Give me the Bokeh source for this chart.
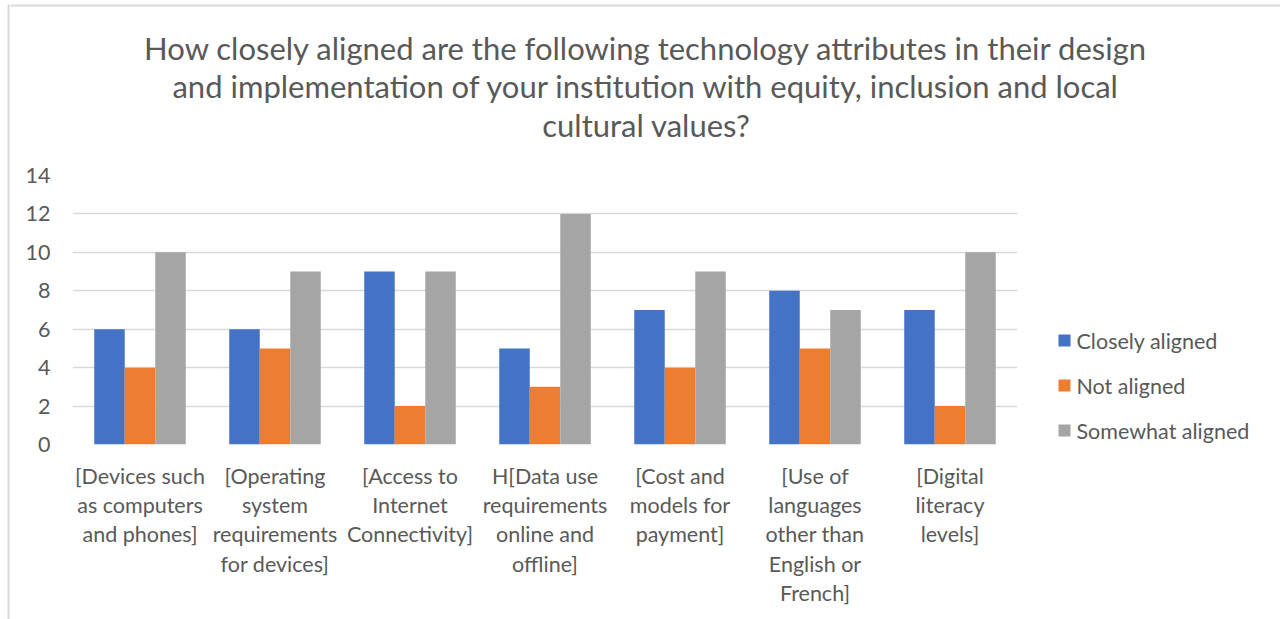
from bokeh.plotting import figure
from bokeh.layouts import column, row
from bokeh.models import FactorRange, SingleIntervalTicker, ColumnDataSource
from bokeh.core.properties import value
from bokeh.transform import dodge
from bokeh.embed import file_html
from bokeh.resources import INLINE

categories = [
    "[Devices such\nas computers\nand phones]",
    "[Operating\nsystem\nrequirements\nfor devices]",
    "[Access to\nInternet\nConnectivity]",
    "H[Data use\nrequirements\nonline and\noffline]",
    "[Cost and\nmodels for\npayment]",
    "[Use of\nlanguages\nother than\nEnglish or\nFrench]",
    "[Digital\nliteracy\nlevels]",
]
closely_aligned = [6, 6, 9, 5, 7, 8, 7]
not_aligned = [4, 5, 2, 3, 4, 5, 2]
somewhat_aligned = [10, 9, 9, 12, 9, 7, 10]
series_names = ["Closely aligned", "Not aligned", "Somewhat aligned"]
colors = ["#4472C4", "#ED7D31", "#A5A5A5"]
title_lines = [
    "How closely aligned are the following technology attributes in their design",
    "and implementation of your institution with equity, inclusion and local",
    "cultural values?",
]

FONT = "Lato"
TXT = "#595959"
BORDER = "#D9D9D9"
PW, PH = 1280, 619

# frame of the main chart, in page pixels
FX0, FX1, FY0, FY1 = 72, 1017, 175, 444


def blank(w, h, x0, x1, y0, y1):
    f = figure(width=w, height=h, x_range=(x0, x1), y_range=(y1, y0),
               output_backend="svg", toolbar_location=None,
               x_axis_type=None, y_axis_type=None, min_border=0)
    f.grid.grid_line_color = None
    f.outline_line_color = None
    return f


# ---------- left border strip (full height) ----------
SW = 10
sfig = blank(SW, PH, 0, SW, 0, PH)
sfig.line(x=[8, 8, SW], y=[PH, 5, 5], line_color=BORDER, line_width=2)

# ---------- title strip ----------
TH = 150
tfig = blank(PW - SW, TH, SW, PW, 0, TH)
tfig.line(x=[SW, PW], y=[5, 5], line_color=BORDER, line_width=2)
tfig.text(x=[646] * 3, y=[47, 85, 124], text=title_lines,
          text_align="center", text_baseline="middle",
          text_font=value(FONT), text_font_size="31px", text_color=TXT)

# ---------- main chart ----------
src = ColumnDataSource(dict(cat=categories, c=closely_aligned, n=not_aligned, s=somewhat_aligned))
MX1 = 1030
MW, MH = MX1 - SW, PH - TH
p = figure(
    x_range=FactorRange(*categories, range_padding=0),
    y_range=(0, 14),
    width=MW, height=MH,
    output_backend="svg", toolbar_location=None,
    min_border_left=FX0 - SW, min_border_right=MX1 - FX1,
    min_border_top=FY0 - TH, min_border_bottom=PH - FY1,
)
p.outline_line_color = None

bw = 0.226
for key, off, col in zip(["c", "n", "s"], [-bw, 0, bw], colors):
    p.vbar(x=dodge("cat", off, range=p.x_range), top=key, width=bw, source=src,
           fill_color=col, line_color=None)

p.yaxis.ticker = SingleIntervalTicker(interval=2)
for ax in (p.xaxis, p.yaxis):
    ax.axis_line_color = None
    ax.major_tick_line_color = None
    ax.minor_tick_line_color = None
    ax.major_label_text_color = TXT
    ax.major_label_text_font = FONT
    ax.major_label_text_font_size = "21.5px"
p.yaxis.major_label_standoff = 16
p.xaxis.major_label_standoff = 12
p.xaxis.major_label_text_line_height = 1.13

p.xgrid.grid_line_color = None
p.ygrid.grid_line_color = BORDER
p.ygrid.grid_line_width = 1.5

# ---------- legend strip (its frame is aligned with the chart frame) ----------
lfig = blank(PW - MX1, MH, MX1, PW, FY0, FY1)
leg_y = [340, 385, 430]
lfig.rect(x=[1064] * 3, y=leg_y, width=12, height=12, fill_color=colors, line_color=None)
lfig.text(x=[1076] * 3, y=leg_y, text=series_names, text_align="left", text_baseline="middle",
          text_font=value(FONT), text_font_size="21.5px", text_color=TXT)

layout = row(sfig, column(tfig, row(p, lfig, spacing=0), spacing=0), spacing=0)
open("out.html", "w").write(file_html(layout, INLINE))
